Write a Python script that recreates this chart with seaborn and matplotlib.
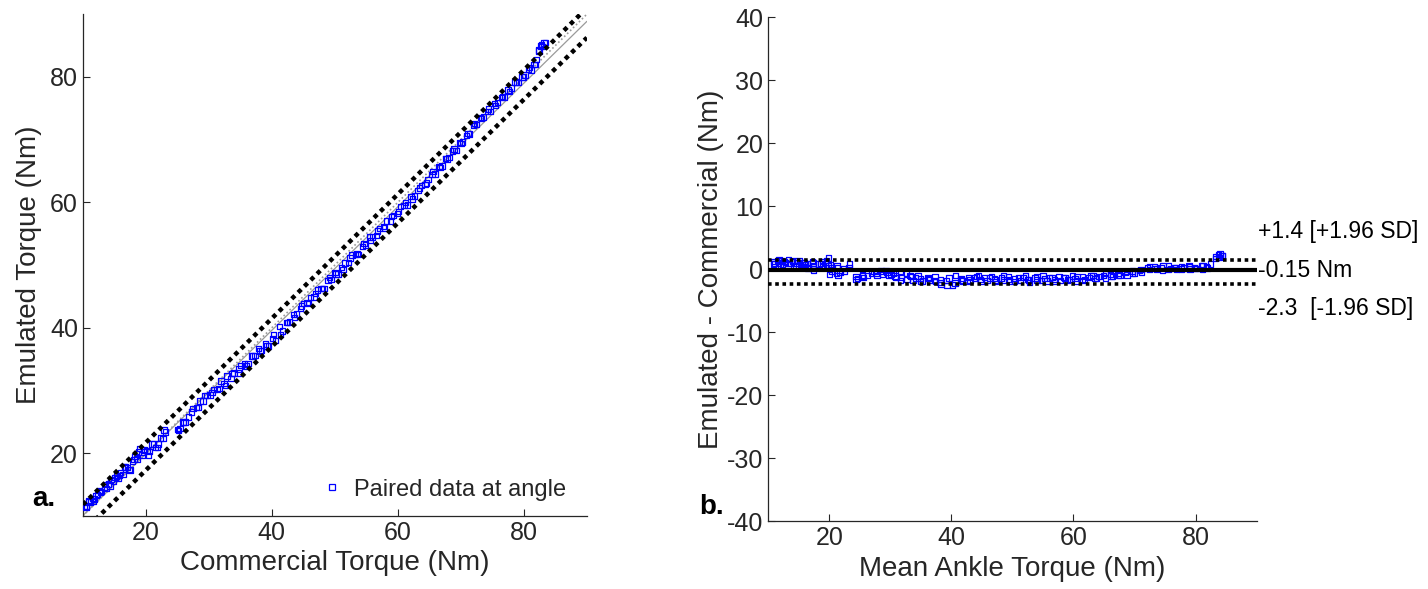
import matplotlib
matplotlib.use("Agg")
import matplotlib.pyplot as plt
from matplotlib.lines import Line2D
import numpy as np
import pandas as pd
import seaborn as sns

# ---------------- data ----------------
commercial = [
    10.3, 10.6, 10.9, 11.2, 11.5, 11.9, 12.3, 12.6, 13.0, 13.4, 13.8, 14.1, 14.5, 14.9,
    15.3, 15.6, 16.0, 16.4, 16.8, 17.1, 17.5, 17.9, 18.3, 18.6, 19.0, 19.4, 19.8,
    20.2, 20.6, 21.0, 21.5, 21.9, 22.3, 22.7, 23.1,
    25.0, 25.4, 25.9, 26.3, 26.8, 27.5, 28.0, 28.6, 29.1, 29.7, 30.2, 30.8, 31.3, 31.9,
    32.4, 32.9, 33.5, 34.0, 34.6, 35.1, 35.7, 36.2, 36.8, 37.3, 37.9, 38.4, 39.0, 39.5,
    40.1, 40.6, 41.2, 41.7, 42.3, 42.8, 43.4, 43.9, 44.5,
    45.0, 45.6, 46.1, 46.7, 47.2, 47.8, 48.3, 48.9, 49.4, 50.0, 50.5, 51.1, 51.6, 52.2,
    52.7, 53.3, 53.8, 54.4, 54.9, 55.5, 56.0, 56.6, 57.1, 57.7, 58.2, 58.8, 59.3, 59.9,
    60.4, 61.0, 61.5, 62.1, 62.6, 63.2, 63.7, 64.3, 64.8,
    65.4, 65.9, 66.5, 67.0, 67.6, 68.1, 68.7, 69.2, 69.8, 70.3, 70.9, 71.4, 72.0, 72.5,
    73.1, 73.6, 74.2, 74.7, 75.3, 75.8, 76.4, 76.9, 77.5, 78.0, 78.6, 79.1, 79.7,
    80.2, 80.7, 81.2, 81.6, 82.0, 82.3, 82.6, 82.9, 83.2,
    10.5, 11.0, 11.7, 12.1, 12.8, 13.6, 14.3, 15.1, 15.8, 16.6, 17.3, 18.1, 18.8, 19.6,
    20.4, 21.2, 22.0, 22.9, 25.2, 26.0, 27.2, 28.3, 29.4, 30.5, 31.6, 32.6, 33.7, 34.8,
    35.9, 37.0, 38.1, 39.2, 40.3, 41.4, 42.5, 43.6, 44.7, 45.8, 46.9, 48.0, 49.1, 50.2,
    51.3, 52.4, 53.5, 54.6, 55.7, 56.8, 57.9, 59.0, 60.1, 61.2, 62.3, 63.4, 64.5, 65.6,
    66.7, 67.8, 68.9, 70.0, 71.1, 72.2, 73.3, 74.4, 75.5, 76.6, 77.7, 78.8, 79.9, 80.9,
    81.8, 82.4, 82.8, 83.4,
]
emulated = [
    11.5, 11.5, 12.3, 12.2, 12.8, 12.7, 13.4, 14.1, 13.9, 14.6, 14.4, 15.1, 15.8, 15.6,
    16.4, 16.0, 16.9, 16.6, 17.8, 17.7, 17.3, 18.7, 19.5, 19.1, 20.8, 19.7, 20.5,
    20.4, 20.3, 21.5, 20.9, 20.9, 22.4, 22.3, 23.4,
    23.8, 23.9, 25.0, 25.0, 25.8, 27.1, 27.3, 28.3, 28.3, 29.2, 29.3, 30.2, 30.2, 31.5,
    31.1, 32.3, 31.9, 32.8, 32.8, 34.0, 34.2, 34.3, 35.5, 35.6, 36.7, 36.4, 37.4, 37.1,
    38.3, 38.0, 40.2, 39.5, 40.8, 40.9, 42.1, 42.2, 43.1,
    43.9, 44.0, 44.8, 44.9, 46.0, 46.3, 46.3, 47.5, 47.7, 48.8, 48.6, 49.6, 50.3, 50.4,
    51.6, 51.7, 51.7, 53.0, 53.2, 54.5, 54.5, 54.7, 55.8, 56.1, 57.0, 57.0, 57.9, 58.2,
    59.3, 59.5, 59.6, 60.9, 61.0, 61.9, 62.7, 62.8, 63.6,
    64.4, 64.5, 65.7, 65.8, 67.0, 67.1, 68.2, 68.3, 69.5, 69.6, 70.7, 70.9, 72.2, 72.4,
    73.5, 73.6, 74.5, 74.5, 75.8, 75.9, 76.7, 76.8, 77.9, 78.2, 79.2, 79.1, 80.0,
    80.3, 81.2, 81.1, 82.0, 82.8, 84.3, 84.9, 84.8, 85.4,
    11.3, 12.5, 12.3, 13.3, 13.7, 15.0, 14.8, 16.1, 16.5, 17.8, 17.4, 19.0, 20.2, 20.2,
    19.6, 21.5, 21.5, 23.7, 23.6, 24.9, 26.6, 27.3, 29.2, 29.7, 30.3, 30.8, 32.7, 33.4,
    33.9, 35.5, 36.3, 37.1, 38.9, 38.9, 40.8, 41.6, 43.5, 43.9, 45.5, 46.3, 48.0, 48.6,
    49.3, 51.1, 51.8, 53.4, 53.9, 55.4, 55.9, 57.7, 58.5, 60.0, 60.5, 62.3, 63.1, 64.9,
    65.6, 66.9, 68.5, 69.4, 71.0, 72.6, 73.4, 74.9, 75.4, 76.9, 77.7, 79.2, 80.0, 81.5,
    82.0, 84.1, 85.2, 85.5,
]

# reference lines in panel a (value at x = 10 and x = 90)
line_x = [10, 90]
identity_y = [10.0, 90.0]
fit_y = [10.05, 88.85]
upper_limit_y = [11.8, 91.0]
lower_limit_y = [7.45, 86.25]

# Bland-Altman statistics (panel b)
bias = -0.15
loa_upper = 1.4
loa_lower = -2.3
bias_label = "-0.15 Nm"
upper_label = "+1.4 [+1.96 SD]"
lower_label = "-2.3  [-1.96 SD]"

ticks_a = [20, 40, 60, 80]
ticks_b_y = [-40, -30, -20, -10, 0, 10, 20, 30, 40]

df = pd.DataFrame({"commercial": commercial, "emulated": emulated})
df["mean"] = (df["commercial"] + df["emulated"]) / 2
df["diff"] = df["emulated"] - df["commercial"]

# ---------------- style ----------------
sns.set_theme(style="ticks")
plt.rcParams["font.family"] = ["Liberation Sans", "DejaVu Sans"]
plt.rcParams["axes.unicode_minus"] = False
axcol = "#262626"
plt.rcParams.update({
    "axes.edgecolor": axcol, "xtick.color": axcol, "ytick.color": axcol,
    "text.color": axcol, "axes.labelcolor": axcol,
    "xtick.direction": "in", "ytick.direction": "in",
    "xtick.major.size": 5, "ytick.major.size": 5,
    "xtick.major.width": 0.8, "ytick.major.width": 0.8,
    "axes.linewidth": 0.9,
})

fig = plt.figure(figsize=(14.28, 5.89), dpi=100)
axA = fig.add_axes([0.058, 0.124, 0.353, 0.852])
axB = fig.add_axes([0.538, 0.115, 0.342, 0.856])

blue = "#0000ff"
dot = (0, (1, 1))

# ---------------- panel a ----------------
sns.lineplot(x=line_x, y=identity_y, ax=axA, color="#9a9a9a", lw=1.2,
             linestyle=(0, (1, 1.5)), zorder=2)
sns.lineplot(x=line_x, y=fit_y, ax=axA, color="#9a9a9a", lw=0.9, zorder=2)
sns.lineplot(x=line_x, y=upper_limit_y, ax=axA, color="black", lw=3.2,
             linestyle=dot, zorder=4)
sns.lineplot(x=line_x, y=lower_limit_y, ax=axA, color="black", lw=3.2,
             linestyle=dot, zorder=4)
sns.scatterplot(data=df, x="commercial", y="emulated", ax=axA, marker="s",
                s=15, legend=False, zorder=3)
pts = axA.collections[-1]
pts.set_facecolor("none")
pts.set_edgecolor(blue)
pts.set_linewidth(0.9)

axA.set_xlim(10, 90)
axA.set_ylim(10, 90)
axA.set_xticks(ticks_a)
axA.set_yticks(ticks_a)
axA.tick_params(labelsize=18)
axA.set_xlabel("Commercial Torque (Nm)", fontsize=20, labelpad=4)
axA.set_ylabel("Emulated Torque (Nm)", fontsize=20, labelpad=6)
sns.despine(ax=axA)
handle = Line2D([], [], marker="s", markersize=4.0, mfc="none", mec=blue,
                mew=0.9, ls="none")
axA.legend([handle], ["Paired data at angle"], loc="lower right", frameon=False,
           fontsize=17, handletextpad=0.3, handlelength=1.2,
           bbox_to_anchor=(1.0, -0.012))
fig.text(0.031, 0.152, "a.", fontsize=20, fontweight="bold", color="black",
         ha="center", va="center")

# ---------------- panel b ----------------
sns.lineplot(x=line_x, y=[bias, bias], ax=axB, color="black", lw=3, zorder=4)
sns.lineplot(x=line_x, y=[loa_upper, loa_upper], ax=axB, color="black", lw=2.6,
             linestyle=dot, zorder=4)
sns.lineplot(x=line_x, y=[loa_lower, loa_lower], ax=axB, color="black", lw=2.6,
             linestyle=dot, zorder=4)
sns.scatterplot(data=df, x="mean", y="diff", ax=axB, marker="s", s=15,
                legend=False, zorder=3)
ptsb = axB.collections[-1]
ptsb.set_facecolor("none")
ptsb.set_edgecolor(blue)
ptsb.set_linewidth(0.9)

axB.set_xlim(10, 90)
axB.set_ylim(-40, 40)
axB.set_xticks(ticks_a)
axB.set_yticks(ticks_b_y)
axB.tick_params(labelsize=18)
axB.set_xlabel("Mean Ankle Torque (Nm)", fontsize=20, labelpad=4)
axB.set_ylabel("Emulated - Commercial (Nm)", fontsize=20, labelpad=2)
sns.despine(ax=axB)

axB.text(90.3, 5.9, upper_label, fontsize=16.5, color="black", va="center",
         ha="left", clip_on=False)
axB.text(90.3, -0.15, bias_label, fontsize=16.5, color="black", va="center",
         ha="left", clip_on=False)
axB.text(90.3, -6.2, lower_label, fontsize=16.5, color="black", va="center",
         ha="left", clip_on=False)
fig.text(0.498, 0.14, "b.", fontsize=20, fontweight="bold", color="black",
         ha="center", va="center")

fig.savefig("out.png", dpi=100)
